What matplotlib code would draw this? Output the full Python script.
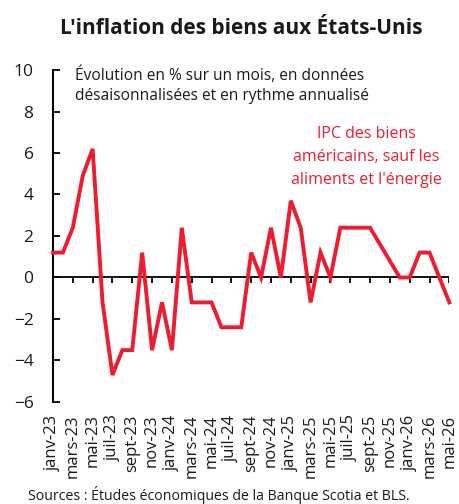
import matplotlib
matplotlib.use('Agg')
import matplotlib.pyplot as plt

plt.rcParams['font.family'] = ['Open Sans', 'DejaVu Sans']

RED = '#ED1C2E'
TXT = '#1a1a1a'

mois = ['janv', 'févr', 'mars', 'avr', 'mai', 'juin',
        'juil', 'août', 'sept', 'oct', 'nov', 'déc']
categories = [m + '-' + str(a) for a in (23, 24, 25, 26) for m in mois][:41]

# evolution en % sur un mois, annualisee
ipc_biens = [1.2, 1.2, 2.4, 4.9, 6.2, -1.2, -4.7, -3.5, -3.5, 1.2,
             -3.5, -1.2, -3.5, 2.4, -1.2, -1.2, -1.2, -2.4, -2.4, -2.4,
             1.2, 0.0, 2.4, 0.0, 3.7, 2.4, -1.2, 1.2, 0.0, 2.4,
             2.4, 2.4, 2.4, 1.6, 0.8, 0.0, 0.0, 1.2, 1.2, 0.0,
             -1.2]

y_ticks = [-6, -4, -2, 0, 2, 4, 6, 8, 10]

fig = plt.figure(figsize=(4.59, 5.04), dpi=100)
ax = fig.add_axes([0.1155, 0.2024, 0.8634, 0.6587])

x = list(range(len(categories)))
ax.plot(x, ipc_biens, color=RED, lw=2.8, solid_joinstyle='miter', zorder=3,
        clip_on=False)

# zero line with its own little ticks
ax.axhline(0, color='black', lw=1.3, zorder=2)
ax.vlines(x[::2], -0.27, 0, color='black', lw=1.3, zorder=2)

ax.set_xlim(0, len(categories) - 1)
ax.set_ylim(-6, 10)
ax.set_yticks(y_ticks)
ax.set_xticks(x[::2])
ax.set_xticklabels(categories[::2], rotation=90, fontsize=12, color=TXT)
ax.tick_params(axis='x', length=0, pad=9)
ax.tick_params(axis='y', direction='in', length=5, width=1.3, pad=14,
               labelsize=12.5, labelcolor=TXT)

for s in ['top', 'right', 'bottom']:
    ax.spines[s].set_visible(False)
ax.spines['left'].set_linewidth(1.5)

fig.text(0.525, 0.944, "L'inflation des biens aux États-Unis", ha='center', va='center',
         fontsize=15, fontweight='bold', color=TXT)
ax.text(0.055, 1.01, 'Évolution en % sur un mois, en données\ndésaisonnalisées et en rythme annualisé',
        transform=ax.transAxes, ha='left', va='top', fontsize=11.2, color=TXT,
        linespacing=1.35)
ax.text(0.79, 0.83, "IPC des biens\naméricains, sauf les\naliments et l'énergie",
        transform=ax.transAxes, ha='center', va='top', fontsize=11.5, color=RED,
        linespacing=1.55)
fig.text(0.06, 0.0, 'Sources : Études économiques de la Banque Scotia et BLS.',
         ha='left', va='bottom', fontsize=10.2, color=TXT)

plt.savefig('out.png', dpi=100)
